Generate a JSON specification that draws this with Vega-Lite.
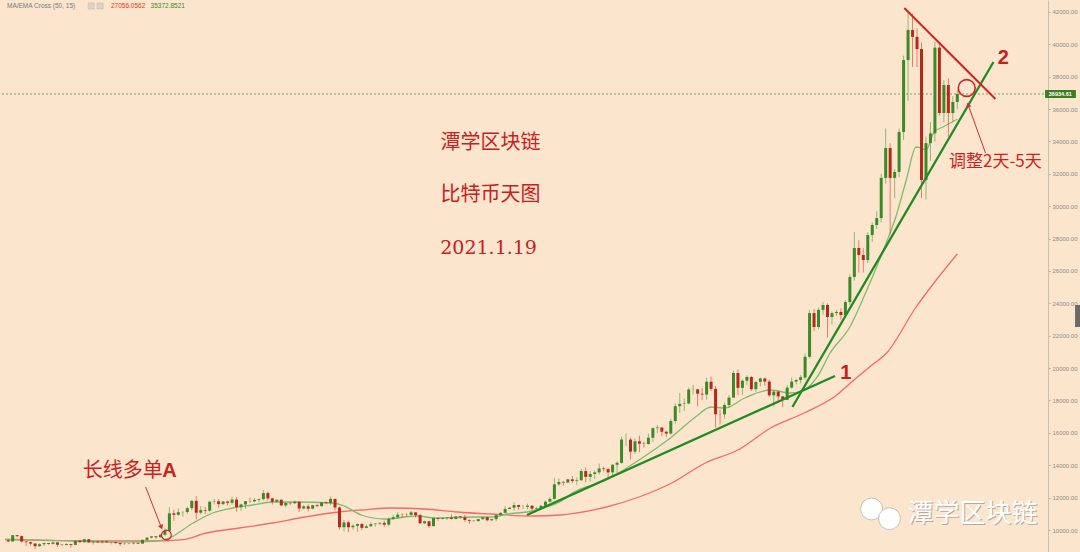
{
"$schema":"https://vega.github.io/schema/vega-lite/v6.json",
"width":1048,"height":552,
"padding":{"left":0,"top":0,"right":32,"bottom":0},
"autosize":{"type":"none"},
"background":"#fce5cd",
"config":{"view":{"stroke":null},"axis":{"labelFontSize":6,"labelColor":"#8c8c8c","labelFont":"Liberation Sans","tickSize":2,"tickColor":"#b5aca2","domainColor":"#c7beb4","labelPadding":2,"labelOverlap":false}},
"datasets":{
"candles":[
{"i":0,"o":9360,"h":9420,"l":9270,"c":9290},{"i":1,"o":9290,"h":9690,"l":9280,"c":9680},{"i":2,"o":9680,"h":9690,"l":9560,"c":9620},{"i":3,"o":9620,"h":9660,"l":9230,"c":9290},{"i":4,"o":9290,"h":9320,"l":9010,"c":9250},{"i":5,"o":9250,"h":9280,"l":9040,"c":9160},{"i":6,"o":9160,"h":9200,"l":8830,"c":9000},{"i":7,"o":9000,"h":9190,"l":8940,"c":9120},{"i":8,"o":9120,"h":9230,"l":9020,"c":9190},{"i":9,"o":9190,"h":9200,"l":9090,"c":9140},
{"i":10,"o":9140,"h":9300,"l":9100,"c":9230},{"i":11,"o":9230,"h":9250,"l":8950,"c":9090},{"i":12,"o":9090,"h":9130,"l":9040,"c":9070},{"i":13,"o":9070,"h":9190,"l":9060,"c":9130},{"i":14,"o":9130,"h":9140,"l":8930,"c":9080},{"i":15,"o":9080,"h":9360,"l":9060,"c":9340},{"i":16,"o":9340,"h":9360,"l":9210,"c":9250},{"i":17,"o":9250,"h":9460,"l":9230,"c":9430},{"i":18,"o":9430,"h":9440,"l":9190,"c":9240},{"i":19,"o":9240,"h":9300,"l":9110,"c":9290},
{"i":20,"o":9290,"h":9300,"l":9200,"c":9240},{"i":21,"o":9240,"h":9340,"l":9160,"c":9300},{"i":22,"o":9300,"h":9340,"l":9210,"c":9240},{"i":23,"o":9240,"h":9280,"l":9120,"c":9250},{"i":24,"o":9250,"h":9270,"l":9160,"c":9190},{"i":25,"o":9190,"h":9210,"l":9010,"c":9130},{"i":26,"o":9130,"h":9190,"l":9090,"c":9150},{"i":27,"o":9150,"h":9200,"l":9120,"c":9170},{"i":28,"o":9170,"h":9250,"l":9110,"c":9210},{"i":29,"o":9210,"h":9220,"l":9140,"c":9160},
{"i":30,"o":9160,"h":9420,"l":9150,"c":9390},{"i":31,"o":9390,"h":9540,"l":9290,"c":9530},{"i":32,"o":9530,"h":9640,"l":9470,"c":9610},{"i":33,"o":9610,"h":9640,"l":9450,"c":9550},{"i":34,"o":9550,"h":9730,"l":9540,"c":9710},{"i":35,"o":9710,"h":10100,"l":9650,"c":9940},{"i":36,"o":9940,"h":11400,"l":9920,"c":11030},{"i":37,"o":11030,"h":11250,"l":10560,"c":10940},{"i":38,"o":10940,"h":11340,"l":10870,"c":11100},{"i":39,"o":11100,"h":11170,"l":10830,"c":11110},
{"i":40,"o":11110,"h":11450,"l":10980,"c":11350},{"i":41,"o":11350,"h":11870,"l":11220,"c":11800},{"i":42,"o":11800,"h":12100,"l":10650,"c":11070},{"i":43,"o":11070,"h":11480,"l":10970,"c":11230},{"i":44,"o":11230,"h":11420,"l":11000,"c":11190},{"i":45,"o":11190,"h":11800,"l":11090,"c":11750},{"i":46,"o":11750,"h":11920,"l":11580,"c":11770},{"i":47,"o":11770,"h":11910,"l":11370,"c":11600},{"i":48,"o":11600,"h":11800,"l":11540,"c":11760},{"i":49,"o":11760,"h":11810,"l":11530,"c":11680},
{"i":50,"o":11680,"h":12060,"l":11560,"c":11880},{"i":51,"o":11880,"h":12040,"l":11140,"c":11410},{"i":52,"o":11410,"h":11620,"l":11180,"c":11580},{"i":53,"o":11580,"h":11790,"l":11300,"c":11780},{"i":54,"o":11780,"h":12000,"l":11690,"c":11770},{"i":55,"o":11770,"h":11970,"l":11700,"c":11860},{"i":56,"o":11860,"h":11930,"l":11700,"c":11910},{"i":57,"o":11910,"h":12470,"l":11830,"c":12280},{"i":58,"o":12280,"h":12380,"l":11830,"c":11950},{"i":59,"o":11950,"h":11990,"l":11570,"c":11750},
{"i":60,"o":11750,"h":11880,"l":11690,"c":11870},{"i":61,"o":11870,"h":11890,"l":11500,"c":11520},{"i":62,"o":11520,"h":11690,"l":11380,"c":11680},{"i":63,"o":11680,"h":11700,"l":11530,"c":11650},{"i":64,"o":11650,"h":11820,"l":11600,"c":11750},{"i":65,"o":11750,"h":11760,"l":11120,"c":11330},{"i":66,"o":11330,"h":11530,"l":11260,"c":11460},{"i":67,"o":11460,"h":11590,"l":11150,"c":11320},{"i":68,"o":11320,"h":11550,"l":11280,"c":11530},{"i":69,"o":11530,"h":11590,"l":11450,"c":11470},
{"i":70,"o":11470,"h":11720,"l":11460,"c":11710},{"i":71,"o":11710,"h":11770,"l":11590,"c":11660},{"i":72,"o":11660,"h":12070,"l":11540,"c":11920},{"i":73,"o":11920,"h":11940,"l":11200,"c":11390},{"i":74,"o":11390,"h":11450,"l":10020,"c":10170},{"i":75,"o":10170,"h":10620,"l":9910,"c":10470},{"i":76,"o":10470,"h":10570,"l":9870,"c":10170},{"i":77,"o":10170,"h":10350,"l":10020,"c":10260},{"i":78,"o":10260,"h":10400,"l":9880,"c":10370},{"i":79,"o":10370,"h":10430,"l":9990,"c":10130},
{"i":80,"o":10130,"h":10350,"l":10100,"c":10230},{"i":81,"o":10230,"h":10500,"l":10200,"c":10360},{"i":82,"o":10360,"h":10410,"l":10200,"c":10400},{"i":83,"o":10400,"h":10480,"l":10300,"c":10440},{"i":84,"o":10440,"h":10580,"l":10210,"c":10330},{"i":85,"o":10330,"h":10780,"l":10230,"c":10680},{"i":86,"o":10680,"h":10940,"l":10630,"c":10790},{"i":87,"o":10790,"h":11100,"l":10670,"c":10950},{"i":88,"o":10950,"h":11040,"l":10740,"c":10940},{"i":89,"o":10940,"h":11040,"l":10820,"c":10930},
{"i":90,"o":10930,"h":11180,"l":10900,"c":11090},{"i":91,"o":11090,"h":11090,"l":10770,"c":10920},{"i":92,"o":10920,"h":10980,"l":10370,"c":10420},{"i":93,"o":10420,"h":10580,"l":10370,"c":10540},{"i":94,"o":10540,"h":10550,"l":10140,"c":10240},{"i":95,"o":10240,"h":10770,"l":10200,"c":10740},{"i":96,"o":10740,"h":10760,"l":10560,"c":10690},{"i":97,"o":10690,"h":10800,"l":10650,"c":10730},{"i":98,"o":10730,"h":10800,"l":10620,"c":10770},{"i":99,"o":10770,"h":10960,"l":10650,"c":10690},
{"i":100,"o":10690,"h":10860,"l":10640,"c":10840},{"i":101,"o":10840,"h":10850,"l":10690,"c":10780},{"i":102,"o":10780,"h":10940,"l":10500,"c":10620},{"i":103,"o":10620,"h":10660,"l":10380,"c":10570},{"i":104,"o":10570,"h":10600,"l":10510,"c":10550},{"i":105,"o":10550,"h":10690,"l":10530,"c":10670},{"i":106,"o":10670,"h":10800,"l":10620,"c":10790},{"i":107,"o":10790,"h":10800,"l":10530,"c":10600},{"i":108,"o":10600,"h":10690,"l":10560,"c":10670},{"i":109,"o":10670,"h":10950,"l":10540,"c":10920},
{"i":110,"o":10920,"h":11100,"l":10840,"c":11060},{"i":111,"o":11060,"h":11490,"l":11060,"c":11300},{"i":112,"o":11300,"h":11430,"l":11280,"c":11380},{"i":113,"o":11380,"h":11720,"l":11200,"c":11540},{"i":114,"o":11540,"h":11560,"l":11250,"c":11430},{"i":115,"o":11430,"h":11540,"l":11300,"c":11430},{"i":116,"o":11430,"h":11630,"l":11280,"c":11500},{"i":117,"o":11500,"h":11540,"l":11230,"c":11320},{"i":118,"o":11320,"h":11410,"l":11300,"c":11360},{"i":119,"o":11360,"h":11520,"l":11340,"c":11500},
{"i":120,"o":11500,"h":11820,"l":11420,"c":11750},{"i":121,"o":11750,"h":12030,"l":11690,"c":11920},{"i":122,"o":11920,"h":13220,"l":11890,"c":12820},{"i":123,"o":12820,"h":13180,"l":12720,"c":12970},{"i":124,"o":12970,"h":13030,"l":12750,"c":12930},{"i":125,"o":12930,"h":13160,"l":12890,"c":13130},{"i":126,"o":13130,"h":13330,"l":12900,"c":13030},{"i":127,"o":13030,"h":13240,"l":12790,"c":13070},{"i":128,"o":13070,"h":13780,"l":13050,"c":13640},{"i":129,"o":13640,"h":13860,"l":12950,"c":13280},
{"i":130,"o":13280,"h":13640,"l":12990,"c":13460},{"i":131,"o":13460,"h":13690,"l":13150,"c":13560},{"i":132,"o":13560,"h":14100,"l":13430,"c":13800},{"i":133,"o":13800,"h":13900,"l":13620,"c":13760},{"i":134,"o":13760,"h":13820,"l":13210,"c":13560},{"i":135,"o":13560,"h":14070,"l":13300,"c":14030},{"i":136,"o":14030,"h":14250,"l":13530,"c":14150},{"i":137,"o":14150,"h":15770,"l":14100,"c":15590},{"i":138,"o":15590,"h":15970,"l":15190,"c":15590},{"i":139,"o":15590,"h":15700,"l":14350,"c":14840},
{"i":140,"o":14840,"h":15650,"l":14710,"c":15480},{"i":141,"o":15480,"h":15830,"l":14810,"c":15330},{"i":142,"o":15330,"h":15460,"l":15080,"c":15310},{"i":143,"o":15310,"h":15950,"l":15280,"c":15700},{"i":144,"o":15700,"h":16340,"l":15440,"c":16290},{"i":145,"o":16290,"h":16480,"l":15990,"c":16330},{"i":146,"o":16330,"h":16340,"l":15800,"c":16070},{"i":147,"o":16070,"h":16130,"l":15740,"c":15960},{"i":148,"o":15960,"h":16880,"l":15880,"c":16730},{"i":149,"o":16730,"h":17810,"l":16560,"c":17650},
{"i":150,"o":17650,"h":18470,"l":17230,"c":17790},{"i":151,"o":17790,"h":18120,"l":17360,"c":17820},{"i":152,"o":17820,"h":18800,"l":17760,"c":18680},{"i":153,"o":18680,"h":18960,"l":18370,"c":18690},{"i":154,"o":18690,"h":18720,"l":17640,"c":18420},{"i":155,"o":18420,"h":18770,"l":18020,"c":18370},{"i":156,"o":18370,"h":19410,"l":18050,"c":19160},{"i":157,"o":19160,"h":19480,"l":18590,"c":18720},{"i":158,"o":18720,"h":18900,"l":16330,"c":17150},{"i":159,"o":17150,"h":17450,"l":16500,"c":17140},
{"i":160,"o":17140,"h":17880,"l":16880,"c":17720},{"i":161,"o":17720,"h":18330,"l":17530,"c":18180},{"i":162,"o":18180,"h":19850,"l":18180,"c":19700},{"i":163,"o":19700,"h":19920,"l":18330,"c":18780},{"i":164,"o":18780,"h":19300,"l":18350,"c":19220},{"i":165,"o":19220,"h":19570,"l":18950,"c":19450},{"i":166,"o":19450,"h":19520,"l":18600,"c":18700},{"i":167,"o":18700,"h":19170,"l":18530,"c":19150},{"i":168,"o":19150,"h":19420,"l":18880,"c":19360},{"i":169,"o":19360,"h":19390,"l":18920,"c":19170},
{"i":170,"o":19170,"h":19290,"l":18220,"c":18320},{"i":171,"o":18320,"h":18630,"l":17630,"c":18550},{"i":172,"o":18550,"h":18560,"l":17920,"c":18250},{"i":173,"o":18250,"h":18260,"l":17580,"c":18040},{"i":174,"o":18040,"h":18950,"l":18020,"c":18800},{"i":175,"o":18800,"h":19420,"l":18720,"c":19170},{"i":176,"o":19170,"h":19340,"l":19000,"c":19270},{"i":177,"o":19270,"h":19570,"l":19070,"c":19440},{"i":178,"o":19420,"h":20900,"l":19280,"c":20700},{"i":179,"o":20700,"h":23600,"l":20600,"c":23400},
{"i":180,"o":23400,"h":23650,"l":22300,"c":22540},{"i":181,"o":22540,"h":23750,"l":22400,"c":23600},{"i":182,"o":23600,"h":24100,"l":23300,"c":23900},{"i":183,"o":23900,"h":24000,"l":21900,"c":23160},{"i":184,"o":23160,"h":23500,"l":22700,"c":23400},{"i":185,"o":23400,"h":23600,"l":23200,"c":23470},{"i":186,"o":23470,"h":23700,"l":23000,"c":23280},{"i":187,"o":23280,"h":24200,"l":23100,"c":24080},{"i":188,"o":24080,"h":25800,"l":23900,"c":25630},{"i":189,"o":25630,"h":28400,"l":25400,"c":27420},
{"i":190,"o":27420,"h":27900,"l":25900,"c":26990},{"i":191,"o":26990,"h":27400,"l":25900,"c":26680},{"i":192,"o":26680,"h":28400,"l":26500,"c":28220},{"i":193,"o":28220,"h":29000,"l":27800,"c":28840},{"i":194,"o":28840,"h":29700,"l":28600,"c":29270},{"i":195,"o":29270,"h":32000,"l":29000,"c":31750},{"i":196,"o":31750,"h":34800,"l":31400,"c":33600},{"i":197,"o":33600,"h":33900,"l":28300,"c":31750},{"i":198,"o":31750,"h":32300,"l":30500,"c":32120},{"i":199,"o":32120,"h":34800,"l":31800,"c":34590},
{"i":200,"o":34590,"h":39300,"l":34100,"c":39030},{"i":201,"o":39030,"h":42100,"l":36500,"c":40890},{"i":202,"o":40890,"h":41900,"l":38600,"c":40460},{"i":203,"o":40460,"h":41000,"l":38600,"c":39710},{"i":204,"o":39710,"h":40100,"l":30500,"c":31620},{"i":205,"o":31620,"h":34300,"l":30400,"c":33900},{"i":206,"o":33900,"h":35200,"l":32800,"c":34500},{"i":207,"o":34500,"h":40150,"l":34000,"c":39800},{"i":208,"o":39800,"h":40100,"l":35600,"c":35760},{"i":209,"o":35760,"h":37800,"l":35200,"c":37490},
{"i":210,"o":37490,"h":37900,"l":34300,"c":35760},{"i":211,"o":35760,"h":36800,"l":35200,"c":36440},{"i":212,"o":36440,"h":37200,"l":36000,"c":36934.61}
],
"ma":[
{"s":"ma50","i":-0.72,"v":9400},{"s":"ma50","i":17,"v":9330},{"s":"ma50","i":34.7,"v":9330},{"s":"ma50","i":39,"v":9400},{"s":"ma50","i":44.2,"v":9815},{"s":"ma50","i":51.7,"v":10124},{"s":"ma50","i":59,"v":10432},{"s":"ma50","i":66.3,"v":10803},{"s":"ma50","i":73.8,"v":11112},{"s":"ma50","i":78.9,"v":11236},{"s":"ma50","i":85.6,"v":11359},{"s":"ma50","i":92.9,"v":11297},{"s":"ma50","i":100.4,"v":11112},{"s":"ma50","i":107.7,"v":10988},{"s":"ma50","i":117.2,"v":10865},{"s":"ma50","i":123.2,"v":10927},{"s":"ma50","i":133.6,"v":11421},{"s":"ma50","i":140.9,"v":12039},{"s":"ma50","i":148.2,"v":12903},{"s":"ma50","i":155.7,"v":14139},{"s":"ma50","i":163,"v":14942},{"s":"ma50","i":170.3,"v":16301},{"s":"ma50","i":177.8,"v":17228},{"s":"ma50","i":185.1,"v":18340},{"s":"ma50","i":188.9,"v":19266},{"s":"ma50","i":192.4,"v":20070},{"s":"ma50","i":196.2,"v":20934},{"s":"ma50","i":202.8,"v":23776},{"s":"ma50","i":207.3,"v":25444},{"s":"ma50","i":212,"v":27056},
{"s":"ema15","i":-0.72,"v":9440},{"s":"ema15","i":8.1,"v":9380},{"s":"ema15","i":17,"v":9290},{"s":"ema15","i":25.8,"v":9250},{"s":"ema15","i":32.5,"v":9300},{"s":"ema15","i":35.8,"v":9480},{"s":"ema15","i":41.3,"v":10432},{"s":"ema15","i":45.7,"v":11050},{"s":"ema15","i":50.2,"v":11359},{"s":"ema15","i":54.6,"v":11544},{"s":"ema15","i":59,"v":11730},{"s":"ema15","i":63.4,"v":11730},{"s":"ema15","i":72.3,"v":11668},{"s":"ema15","i":74.5,"v":11544},{"s":"ema15","i":78.9,"v":10927},{"s":"ema15","i":84,"v":10680},{"s":"ema15","i":91.5,"v":10865},{"s":"ema15","i":95.1,"v":10741},{"s":"ema15","i":104,"v":10803},{"s":"ema15","i":108.4,"v":10803},{"s":"ema15","i":111.4,"v":10988},{"s":"ema15","i":115.9,"v":11112},{"s":"ema15","i":120.3,"v":11421},{"s":"ema15","i":123.2,"v":11730},{"s":"ema15","i":126,"v":12286},{"s":"ema15","i":133.6,"v":13089},{"s":"ema15","i":140.9,"v":14325},{"s":"ema15","i":148.2,"v":15746},{"s":"ema15","i":153.5,"v":16981},{"s":"ema15","i":157,"v":17599},{"s":"ema15","i":160.1,"v":17537},{"s":"ema15","i":164.5,"v":18155},{"s":"ema15","i":170.3,"v":18649},{"s":"ema15","i":174.7,"v":18463},{"s":"ema15","i":177.8,"v":18649},{"s":"ema15","i":180.7,"v":19452},{"s":"ema15","i":183.6,"v":20934},{"s":"ema15","i":188,"v":22540},{"s":"ema15","i":191.8,"v":24826},{"s":"ema15","i":195.5,"v":27297},{"s":"ema15","i":198.4,"v":29459},{"s":"ema15","i":200.6,"v":31622},{"s":"ema15","i":202.8,"v":33660},{"s":"ema15","i":203.9,"v":33598},{"s":"ema15","i":205,"v":33475},{"s":"ema15","i":206.8,"v":34587},{"s":"ema15","i":208.8,"v":34896},{"s":"ema15","i":212,"v":35372}
]
},
"encoding":{"x":{"field":"i","type":"quantitative","scale":{"domain":[-0.72,231.14],"nice":false,"zero":false},"axis":null}},
"layer":[
{"data":{"values":[{"v":36934.61}]},"mark":{"type":"rule","color":"#7f9a66","strokeDash":[2,2],"strokeWidth":1},
 "encoding":{"x":null,"y":{"field":"v","type":"quantitative","scale":{"domain":[8641,42741],"nice":false,"zero":false},"axis":{"orient":"right","values":[10000,12000,14000,16000,18000,20000,22000,24000,26000,28000,30000,32000,34000,36000,38000,40000,42000],"format":".2f","title":null,"grid":false}}}},
{"data":{"name":"ma"},"mark":{"type":"line","strokeWidth":1.3,"interpolate":"monotone"},
 "encoding":{"y":{"field":"v","type":"quantitative","scale":{"domain":[8641,42741],"nice":false,"zero":false},"axis":{"orient":"right","values":[10000,12000,14000,16000,18000,20000,22000,24000,26000,28000,30000,32000,34000,36000,38000,40000,42000],"format":".2f","title":null,"grid":false}},
  "color":{"field":"s","type":"nominal","scale":{"domain":["ma50","ema15"],"range":["#f46a66","#7fbb6c"]},"legend":null},"detail":{"field":"s"}}},
{"data":{"name":"candles"},"mark":{"type":"rule","strokeWidth":1,"opacity":0.6},
 "encoding":{"y":{"field":"l","type":"quantitative","scale":{"domain":[8641,42741],"nice":false,"zero":false},"axis":{"orient":"right","values":[10000,12000,14000,16000,18000,20000,22000,24000,26000,28000,30000,32000,34000,36000,38000,40000,42000],"format":".2f","title":null,"grid":false}},"y2":{"field":"h"},
  "color":{"condition":{"test":"datum.c >= datum.o","value":"#4c9a36"},"value":"#d03a2c"}}},
{"data":{"name":"candles"},"mark":{"type":"bar","size":3},
 "encoding":{"y":{"field":"o","type":"quantitative","scale":{"domain":[8641,42741],"nice":false,"zero":false},"axis":{"orient":"right","values":[10000,12000,14000,16000,18000,20000,22000,24000,26000,28000,30000,32000,34000,36000,38000,40000,42000],"format":".2f","title":null,"grid":false}},
  "y2":{"field":"c"},
  "color":{"condition":{"test":"datum.c >= datum.o","value":"#3a8a26"},"value":"#b6281b"}}},
{"data":{"values":[{"k":"t1","i":115.87,"v":10927},{"k":"t1","i":184.68,"v":19514},{"k":"t2","i":175.17,"v":17599},{"k":"t2","i":220.07,"v":38911}]},
 "mark":{"type":"line","strokeWidth":2.3,"color":"#1f8c1f"},
 "encoding":{"y":{"field":"v","type":"quantitative","scale":{"domain":[8641,42741],"nice":false,"zero":false},"axis":{"orient":"right","values":[10000,12000,14000,16000,18000,20000,22000,24000,26000,28000,30000,32000,34000,36000,38000,40000,42000],"format":".2f","title":null,"grid":false}},"detail":{"field":"k"}}},
{"data":{"values":[{"k":"r1","i":200.17,"v":42247},{"k":"r1","i":220.52,"v":36625}]},
 "mark":{"type":"line","strokeWidth":2,"color":"#d42222"},
 "encoding":{"y":{"field":"v","type":"quantitative","scale":{"domain":[8641,42741],"nice":false,"zero":false},"axis":{"orient":"right","values":[10000,12000,14000,16000,18000,20000,22000,24000,26000,28000,30000,32000,34000,36000,38000,40000,42000],"format":".2f","title":null,"grid":false}},"detail":{"field":"k"}}},
{"data":{"values":[{"k":"a1","i":30.7,"v":12657},{"k":"a1","i":34.1,"v":10230},{"k":"a2","i":218.3,"v":33289},{"k":"a2","i":214.5,"v":36200}]},
 "mark":{"type":"line","strokeWidth":1,"color":"#d03030"},
 "encoding":{"y":{"field":"v","type":"quantitative","scale":{"domain":[8641,42741],"nice":false,"zero":false},"axis":{"orient":"right","values":[10000,12000,14000,16000,18000,20000,22000,24000,26000,28000,30000,32000,34000,36000,38000,40000,42000],"format":".2f","title":null,"grid":false}},"detail":{"field":"k"}}},
{"data":{"values":[{"i":34.2,"v":10170,"a":339,"sh":"triangle-down"},{"i":214.4,"v":36250,"a":340,"sh":"triangle-up"}]},
 "mark":{"type":"point","filled":true,"size":30,"color":"#d03030","opacity":1},
 "encoding":{"y":{"field":"v","type":"quantitative","scale":{"domain":[8641,42741],"nice":false,"zero":false},"axis":{"orient":"right","values":[10000,12000,14000,16000,18000,20000,22000,24000,26000,28000,30000,32000,34000,36000,38000,40000,42000],"format":".2f","title":null,"grid":false}},
  "angle":{"field":"a","type":"quantitative","scale":null},"shape":{"field":"sh","type":"nominal","scale":null}}},
{"data":{"values":[{"i":214.1,"v":37305}]},
 "mark":{"type":"point","shape":"circle","filled":false,"size":283,"strokeWidth":1.6,"color":"#cf2222","opacity":1},
 "encoding":{"y":{"field":"v","type":"quantitative","scale":{"domain":[8641,42741],"nice":false,"zero":false},"axis":{"orient":"right","values":[10000,12000,14000,16000,18000,20000,22000,24000,26000,28000,30000,32000,34000,36000,38000,40000,42000],"format":".2f","title":null,"grid":false}}}},
{"data":{"values":[{"i":35.34,"v":9691}]},
 "mark":{"type":"point","shape":"circle","filled":false,"size":95,"strokeWidth":1.2,"color":"#cf2222","opacity":1},
 "encoding":{"y":{"field":"v","type":"quantitative","scale":{"domain":[8641,42741],"nice":false,"zero":false},"axis":{"orient":"right","values":[10000,12000,14000,16000,18000,20000,22000,24000,26000,28000,30000,32000,34000,36000,38000,40000,42000],"format":".2f","title":null,"grid":false}}}},
{"data":{"values":[{"i":107.7,"v":33907,"t":"潭学区块链"},{"i":107.7,"v":30695,"t":"比特币天图"}]},
 "mark":{"type":"text","font":"Noto Sans CJK SC","fontSize":20,"fontWeight":"normal","color":"#c8201e","align":"center","baseline":"middle"},
 "encoding":{"y":{"field":"v","type":"quantitative","scale":{"domain":[8641,42741],"nice":false,"zero":false},"axis":{"orient":"right","values":[10000,12000,14000,16000,18000,20000,22000,24000,26000,28000,30000,32000,34000,36000,38000,40000,42000],"format":".2f","title":null,"grid":false}},"text":{"field":"t"}}},
{"data":{"values":[{"i":107.3,"v":27421,"t":"2021.1.19"}]},
 "mark":{"type":"text","font":"DejaVu Serif","fontSize":19,"color":"#c8201e","align":"center","baseline":"middle"},
 "encoding":{"y":{"field":"v","type":"quantitative","scale":{"domain":[8641,42741],"nice":false,"zero":false},"axis":{"orient":"right","values":[10000,12000,14000,16000,18000,20000,22000,24000,26000,28000,30000,32000,34000,36000,38000,40000,42000],"format":".2f","title":null,"grid":false}},"text":{"field":"t"}}},
{"data":{"values":[{"i":25.6,"v":13645,"t":"长线多单"}]},
 "mark":{"type":"text","font":"Noto Sans CJK SC","fontSize":20,"fontWeight":"normal","color":"#c8221e","align":"center","baseline":"middle"},
 "encoding":{"y":{"field":"v","type":"quantitative","scale":{"domain":[8641,42741],"nice":false,"zero":false},"axis":{"orient":"right","values":[10000,12000,14000,16000,18000,20000,22000,24000,26000,28000,30000,32000,34000,36000,38000,40000,42000],"format":".2f","title":null,"grid":false}},"text":{"field":"t"}}},
{"data":{"values":[{"i":36.0,"v":13645,"t":"A"}]},
 "mark":{"type":"text","font":"Liberation Sans","fontSize":20,"fontWeight":"bold","color":"#c8221e","align":"center","baseline":"middle"},
 "encoding":{"y":{"field":"v","type":"quantitative","scale":{"domain":[8641,42741],"nice":false,"zero":false},"axis":{"orient":"right","values":[10000,12000,14000,16000,18000,20000,22000,24000,26000,28000,30000,32000,34000,36000,38000,40000,42000],"format":".2f","title":null,"grid":false}},"text":{"field":"t"}}},
{"data":{"values":[{"i":220.5,"v":32733,"t":"调整2天-5天"}]},
 "mark":{"type":"text","font":"Noto Sans CJK SC","fontSize":17,"color":"#d01e1e","align":"center","baseline":"middle"},
 "encoding":{"y":{"field":"v","type":"quantitative","scale":{"domain":[8641,42741],"nice":false,"zero":false},"axis":{"orient":"right","values":[10000,12000,14000,16000,18000,20000,22000,24000,26000,28000,30000,32000,34000,36000,38000,40000,42000],"format":".2f","title":null,"grid":false}},"text":{"field":"t"}}},
{"data":{"values":[{"i":187.1,"v":19699,"t":"1"},{"i":222.3,"v":39158,"t":"2"}]},
 "mark":{"type":"text","font":"Liberation Sans","fontSize":20,"fontWeight":"bold","color":"#c81e1e","align":"center","baseline":"middle"},
 "encoding":{"y":{"field":"v","type":"quantitative","scale":{"domain":[8641,42741],"nice":false,"zero":false},"axis":{"orient":"right","values":[10000,12000,14000,16000,18000,20000,22000,24000,26000,28000,30000,32000,34000,36000,38000,40000,42000],"format":".2f","title":null,"grid":false}},"text":{"field":"t"}}},
{"data":{"values":[{"i":192.86,"v":11300},{"i":196.85,"v":10700}]},
 "mark":{"type":"point","shape":"circle","filled":true,"size":480,"color":"#ffffff","stroke":"#c8c0b8","strokeWidth":1,"opacity":1},
 "encoding":{"y":{"field":"v","type":"quantitative","scale":{"domain":[8641,42741],"nice":false,"zero":false},"axis":{"orient":"right","values":[10000,12000,14000,16000,18000,20000,22000,24000,26000,28000,30000,32000,34000,36000,38000,40000,42000],"format":".2f","title":null,"grid":false}}}},
{"data":{"values":[{"i":215.4,"v":11000,"t":"潭学区块链"}]},
 "mark":{"type":"text","font":"Noto Sans CJK SC","fontSize":26,"color":"#9a9088","opacity":0.7,"dx":1,"dy":1,"align":"center","baseline":"middle"},
 "encoding":{"y":{"field":"v","type":"quantitative","scale":{"domain":[8641,42741],"nice":false,"zero":false},"axis":{"orient":"right","values":[10000,12000,14000,16000,18000,20000,22000,24000,26000,28000,30000,32000,34000,36000,38000,40000,42000],"format":".2f","title":null,"grid":false}},"text":{"field":"t"}}},
{"data":{"values":[{"i":215.4,"v":11000,"t":"潭学区块链"}]},
 "mark":{"type":"text","font":"Noto Sans CJK SC","fontSize":26,"color":"#ffffff","align":"center","baseline":"middle"},
 "encoding":{"y":{"field":"v","type":"quantitative","scale":{"domain":[8641,42741],"nice":false,"zero":false},"axis":{"orient":"right","values":[10000,12000,14000,16000,18000,20000,22000,24000,26000,28000,30000,32000,34000,36000,38000,40000,42000],"format":".2f","title":null,"grid":false}},"text":{"field":"t"}}},
{"data":{"values":[{"i":-0.28,"v":42370,"t":"MA/EMA Cross (50, 15)"}]},
 "mark":{"type":"text","font":"Liberation Sans","fontSize":6.5,"color":"#7a7a7a","align":"left","baseline":"middle"},
 "encoding":{"y":{"field":"v","type":"quantitative","scale":{"domain":[8641,42741],"nice":false,"zero":false},"axis":{"orient":"right","values":[10000,12000,14000,16000,18000,20000,22000,24000,26000,28000,30000,32000,34000,36000,38000,40000,42000],"format":".2f","title":null,"grid":false}},"text":{"field":"t"}}},
{"data":{"values":[{"i":22.95,"v":42370,"t":"27056.0562"}]},
 "mark":{"type":"text","font":"Liberation Sans","fontSize":6.5,"color":"#e03a2e","align":"left","baseline":"middle"},
 "encoding":{"y":{"field":"v","type":"quantitative","scale":{"domain":[8641,42741],"nice":false,"zero":false},"axis":{"orient":"right","values":[10000,12000,14000,16000,18000,20000,22000,24000,26000,28000,30000,32000,34000,36000,38000,40000,42000],"format":".2f","title":null,"grid":false}},"text":{"field":"t"}}},
{"data":{"values":[{"i":31.8,"v":42370,"t":"35372.8521"}]},
 "mark":{"type":"text","font":"Liberation Sans","fontSize":6.5,"color":"#3a8a26","align":"left","baseline":"middle"},
 "encoding":{"y":{"field":"v","type":"quantitative","scale":{"domain":[8641,42741],"nice":false,"zero":false},"axis":{"orient":"right","values":[10000,12000,14000,16000,18000,20000,22000,24000,26000,28000,30000,32000,34000,36000,38000,40000,42000],"format":".2f","title":null,"grid":false}},"text":{"field":"t"}}},
{"data":{"values":[{"i":18.53,"v":42370},{"i":20.52,"v":42370}]},
 "mark":{"type":"point","shape":"square","filled":true,"size":36,"color":"#ddd3c8","stroke":"#c4bab0","strokeWidth":0.6,"opacity":1},
 "encoding":{"y":{"field":"v","type":"quantitative","scale":{"domain":[8641,42741],"nice":false,"zero":false},"axis":{"orient":"right","values":[10000,12000,14000,16000,18000,20000,22000,24000,26000,28000,30000,32000,34000,36000,38000,40000,42000],"format":".2f","title":null,"grid":false}}}},
{"data":{"values":[{"i":231.6,"i2":238.5,"v":36687,"v2":37181}]},
 "mark":{"type":"rect","color":"#3d7e22"},
 "encoding":{"x2":{"field":"i2"},"y":{"field":"v","type":"quantitative","scale":{"domain":[8641,42741],"nice":false,"zero":false},"axis":{"orient":"right","values":[10000,12000,14000,16000,18000,20000,22000,24000,26000,28000,30000,32000,34000,36000,38000,40000,42000],"format":".2f","title":null,"grid":false}},"y2":{"field":"v2"}}},
{"data":{"values":[{"i":235.0,"v":36934.61,"t":"36934.61"}]},
 "mark":{"type":"text","font":"Liberation Sans","fontSize":5.5,"fontWeight":"bold","color":"#ffffff","align":"center","baseline":"middle"},
 "encoding":{"y":{"field":"v","type":"quantitative","scale":{"domain":[8641,42741],"nice":false,"zero":false},"axis":{"orient":"right","values":[10000,12000,14000,16000,18000,20000,22000,24000,26000,28000,30000,32000,34000,36000,38000,40000,42000],"format":".2f","title":null,"grid":false}},"text":{"field":"t"}}},
{"data":{"values":[{"i":238.3,"i2":239.5,"v":23900,"v2":22541}]},
 "mark":{"type":"rect","color":"#6a6a6a"},
 "encoding":{"x2":{"field":"i2"},"y":{"field":"v","type":"quantitative","scale":{"domain":[8641,42741],"nice":false,"zero":false},"axis":{"orient":"right","values":[10000,12000,14000,16000,18000,20000,22000,24000,26000,28000,30000,32000,34000,36000,38000,40000,42000],"format":".2f","title":null,"grid":false}},"y2":{"field":"v2"}}}
]
}
